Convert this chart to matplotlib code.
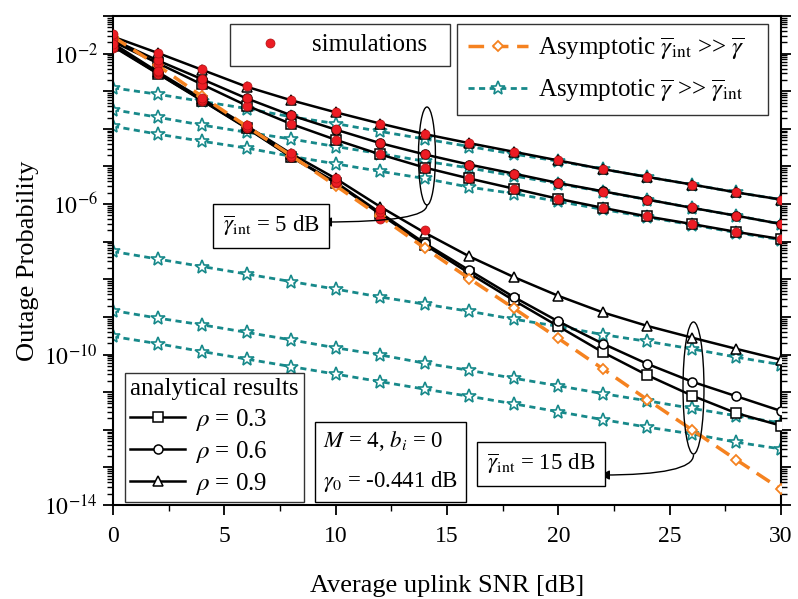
import numpy as np
import matplotlib
matplotlib.use('Agg')
import matplotlib.pyplot as plt
from matplotlib.patches import Ellipse
from matplotlib.lines import Line2D
from matplotlib.ticker import FixedLocator, FuncFormatter, MultipleLocator, NullFormatter

plt.rcParams['font.family'] = ['Liberation Serif', 'DejaVu Serif']
plt.rcParams['mathtext.fontset'] = 'stix'

# ---------------- data (log10 of outage probability) ----------------
snr = np.arange(0, 31, 2)

# analytical results, interference 5 dB
log_op_5dB_rho03 = [-1.68, -2.25, -2.82, -3.38, -3.87, -4.29, -4.68, -5.03, -5.32, -5.59, -5.86, -6.10, -6.33, -6.53, -6.74, -6.93]
log_op_5dB_rho06 = [-1.63, -2.18, -2.68, -3.19, -3.64, -4.02, -4.38, -4.68, -4.95, -5.19, -5.44, -5.66, -5.88, -6.10, -6.31, -6.53]
log_op_5dB_rho09 = [-1.55, -1.98, -2.43, -2.88, -3.24, -3.56, -3.86, -4.14, -4.38, -4.61, -4.84, -5.07, -5.28, -5.48, -5.69, -5.88]
# analytical results, interference 15 dB
log_op_15dB_rho03 = [-1.81, -2.53, -3.25, -3.98, -4.75, -5.44, -6.27, -7.08, -7.84, -8.56, -9.25, -9.94, -10.55, -11.09, -11.56, -11.89]
log_op_15dB_rho06 = [-1.79, -2.52, -3.24, -3.97, -4.74, -5.42, -6.23, -7.04, -7.76, -8.47, -9.12, -9.71, -10.25, -10.72, -11.11, -11.50]
log_op_15dB_rho09 = [-1.73, -2.48, -3.20, -3.92, -4.66, -5.32, -6.07, -6.76, -7.39, -7.94, -8.44, -8.88, -9.24, -9.55, -9.85, -10.14]

# simulations
log_sim_5dB_rho03 = [-1.72, -2.27, -2.83, -3.40, -3.87, -4.29, -4.68, -5.04, -5.32, -5.59, -5.86, -6.10, -6.32, -6.54, -6.74, -6.94]
log_sim_5dB_rho06 = [-1.60, -2.17, -2.68, -3.17, -3.63, -4.01, -4.37, -4.67, -4.95, -5.19, -5.43, -5.67, -5.88, -6.09, -6.31, -6.53]
log_sim_5dB_rho09 = [-1.47, -1.98, -2.42, -2.87, -3.24, -3.56, -3.86, -4.14, -4.37, -4.61, -4.84, -5.06, -5.28, -5.48, -5.69, -5.89]
snr_sim_15dB_rho03 = [0, 2, 4, 6, 8, 10, 12]
log_sim_15dB_rho03 = [-1.86, -2.53, -3.26, -3.98, -4.76, -5.45, -6.40]
snr_sim_15dB_rho06 = [0, 2, 4, 6, 8, 10, 12]
log_sim_15dB_rho06 = [-1.82, -2.50, -3.23, -3.96, -4.73, -5.40, -6.20]
snr_sim_15dB_rho09 = [0, 2, 4, 6, 8, 10, 12, 14]
log_sim_15dB_rho09 = [-1.75, -2.46, -3.19, -3.90, -4.64, -5.30, -6.12, -6.68]

# asymptotic, gamma_int >> gamma
log_asym_int = [-1.55, -2.31, -3.14, -3.93, -4.71, -5.51, -6.33, -7.17, -7.98, -8.77, -9.57, -10.38, -11.20, -12.00, -12.80, -13.58]
# asymptotic, gamma >> gamma_int
log_asym_5dB_rho09 = [-2.91, -3.08, -3.27, -3.46, -3.68, -3.86, -4.07, -4.27, -4.47, -4.67, -4.86, -5.07, -5.28, -5.48, -5.69, -5.88]
log_asym_5dB_rho06 = [-3.49, -3.69, -3.90, -4.09, -4.27, -4.47, -4.66, -4.86, -5.04, -5.25, -5.46, -5.67, -5.88, -6.10, -6.31, -6.53]
log_asym_5dB_rho03 = [-3.93, -4.14, -4.33, -4.51, -4.73, -4.93, -5.13, -5.32, -5.55, -5.72, -5.93, -6.14, -6.35, -6.55, -6.76, -6.95]
log_asym_15dB_rho09 = [-7.26, -7.46, -7.66, -7.86, -8.06, -8.26, -8.47, -8.66, -8.85, -9.06, -9.25, -9.47, -9.65, -9.85, -10.07, -10.27]
log_asym_15dB_rho06 = [-8.83, -9.03, -9.21, -9.41, -9.61, -9.82, -10.01, -10.23, -10.42, -10.63, -10.83, -11.04, -11.23, -11.43, -11.63, -11.82]
log_asym_15dB_rho03 = [-9.52, -9.71, -9.92, -10.12, -10.32, -10.52, -10.72, -10.92, -11.11, -11.31, -11.52, -11.73, -11.93, -12.11, -12.33, -12.51]

rho_labels = ['0.3', '0.6', '0.9']
xtick_vals = [0, 5, 10, 15, 20, 25, 30]
ytick_labelled = [-2, -6, -10, -14]

# ---------------- styles ----------------
RED = '#ec1c24'
ORANGE = '#f58220'
TEAL = '#17898a'

fig = plt.figure(figsize=(7.98, 5.99), dpi=100)
ax = fig.add_axes([0.1416, 0.1569, 0.8371, 0.8164])

def P(v):
    return 10.0 ** np.asarray(v, dtype=float)

# asymptotic gamma >> gamma_int (teal)
for arr in [log_asym_5dB_rho09, log_asym_5dB_rho06, log_asym_5dB_rho03,
            log_asym_15dB_rho09, log_asym_15dB_rho06, log_asym_15dB_rho03]:
    ax.plot(snr, P(arr), color=TEAL, ls=(0, (2.2, 1.6)), lw=2.0, marker='*',
            ms=10.5, mfc='white', mec=TEAL, mew=1.2, zorder=2)

# analytical results (black)
markers = ['s', 'o', '^']
for arrs in [(log_op_5dB_rho03, log_op_5dB_rho06, log_op_5dB_rho09),
             (log_op_15dB_rho03, log_op_15dB_rho06, log_op_15dB_rho09)]:
    for arr, mk in zip(arrs, markers):
        ax.plot(snr, P(arr), color='black', lw=1.8, marker=mk, ms=7.5 if mk == '^' else 6.5,
                mfc='white', mec='black', mew=1.1, zorder=3)

# asymptotic gamma_int >> gamma (orange)
ax.plot(snr, P(log_asym_int), color=ORANGE, ls=(0, (4.5, 2.5)), lw=2.5, marker='D',
        ms=5.5, mfc='white', mec=ORANGE, mew=1.3, zorder=3.5)

# simulations (red dots)
for xs, arr in [(snr, log_sim_5dB_rho03), (snr, log_sim_5dB_rho06), (snr, log_sim_5dB_rho09),
                (snr_sim_15dB_rho03, log_sim_15dB_rho03), (snr_sim_15dB_rho06, log_sim_15dB_rho06),
                (snr_sim_15dB_rho09, log_sim_15dB_rho09)]:
    ax.plot(xs, P(arr), ls='none', marker='o', ms=6.5, mfc=RED, mec='#b01010', mew=0.5, zorder=4)

# ---------------- axes ----------------
ax.set_yscale('log')
ax.set_xlim(0, 30)
ax.set_ylim(1e-14, 1e-1)
ax.xaxis.set_major_locator(FixedLocator(xtick_vals))
ax.xaxis.set_minor_locator(MultipleLocator(2.5))
ax.yaxis.set_major_locator(FixedLocator([10.0 ** k for k in range(-14, 0)]))
minors = [m * 10.0 ** k for k in range(-14, -1) for m in range(2, 10)]
ax.yaxis.set_minor_locator(FixedLocator(minors))
ax.yaxis.set_minor_formatter(NullFormatter())

def yfmt(v, pos):
    e = int(round(np.log10(v)))
    return r'$10^{%d}$' % e if e in ytick_labelled else ''
ax.yaxis.set_major_formatter(FuncFormatter(yfmt))

ax.tick_params(axis='both', which='major', direction='out', length=7, width=1.3, labelsize=17,
               right=True, top=False)
ax.tick_params(axis='x', which='major', pad=8)
ax.tick_params(axis='y', which='major', pad=4)
ax.tick_params(axis='both', which='minor', direction='out', length=4, width=1.0, right=True, top=False)
for s in ax.spines.values():
    s.set_linewidth(1.5)

ax.set_xlabel('Average uplink SNR [dB]', fontsize=19, labelpad=20)
ax.set_ylabel('Outage Probability', fontsize=19, labelpad=4)

# ---------------- legends ----------------
sim_handle = Line2D([], [], ls='none', marker='o', ms=6.5, mfc=RED, mec='#b01010', mew=0.5)
leg1 = ax.legend([sim_handle], ['simulations  '], loc='upper left', bbox_to_anchor=(0.175, 0.984),
                 fontsize=18, frameon=True, fancybox=False, edgecolor='black', handlelength=2.4,
                 borderpad=0.4, handletextpad=0.5, borderaxespad=0)
leg1.get_frame().set_linewidth(1.0)
ax.add_artist(leg1)

h_int = Line2D([], [], color=ORANGE, ls=(0, (4.5, 2.5)), lw=2.5, marker='D', ms=5.5, mfc='white', mec=ORANGE, mew=1.3)
h_snr = Line2D([], [], color=TEAL, ls=(0, (2.2, 1.6)), lw=2.0, marker='*', ms=10.5, mfc='white', mec=TEAL, mew=1.2)
leg2 = ax.legend([h_int, h_snr],
                 [r'Asymptotic $\overline{\gamma}_{\mathrm{int}}$ >> $\overline{\gamma}$   ',
                  r'Asymptotic $\overline{\gamma}$ >> $\overline{\gamma}_{\mathrm{int}}$   '],
                 loc='upper left', bbox_to_anchor=(0.515, 0.984), fontsize=18, frameon=True,
                 fancybox=False, edgecolor='black', handlelength=2.4, borderpad=0.45,
                 handletextpad=0.4, labelspacing=0.6, borderaxespad=0)
leg2.get_frame().set_linewidth(1.0)
ax.add_artist(leg2)

h_rho = [Line2D([], [], color='black', lw=1.8, marker=mk, ms=7.5 if mk == '^' else 6.5,
                mfc='white', mec='black', mew=1.1) for mk in markers]
leg3 = ax.legend(h_rho, [r'$\rho$ = %s' % r for r in rho_labels], title='analytical results',
                 loc='lower left', bbox_to_anchor=(0.018, 0.006), fontsize=18, title_fontsize=18,
                 frameon=True, fancybox=False, edgecolor='black', handlelength=2.2, borderpad=0.2,
                 handletextpad=0.4, labelspacing=0.25, borderaxespad=0)
leg3._legend_box.align = 'left'
leg3.get_frame().set_linewidth(1.0)

# parameter box
ax.text(0.3145, 0.022, r'$M$ = 4, $b_i$ = 0' + '\n' + r'$\gamma_0$ = -0.441 dB', transform=ax.transAxes,
        ha='left', va='bottom', fontsize=16.5, linespacing=1.9,
        bbox=dict(boxstyle='square,pad=0.35', fc='white', ec='black', lw=1.0), zorder=6)

# annotation boxes
ax.text(0.2365, 0.5706, r'$\overline{\gamma}_{\mathrm{int}}$ = 5 dB', transform=ax.transAxes,
        ha='center', va='center', fontsize=16.5,
        bbox=dict(boxstyle='square,pad=0.42', fc='white', ec='black', lw=1.0), zorder=6)
ax.text(0.6405, 0.0838, r'$\overline{\gamma}_{\mathrm{int}}$ = 15 dB', transform=ax.transAxes,
        ha='center', va='center', fontsize=16.5,
        bbox=dict(boxstyle='square,pad=0.42', fc='white', ec='black', lw=1.0), zorder=6)

# ellipses
ax.add_patch(Ellipse((0.470, 0.7137), 0.0254, 0.2004, transform=ax.transAxes, fill=False,
                     ec='black', lw=1.0, zorder=5))
ax.add_patch(Ellipse((0.869, 0.2393), 0.0314, 0.270, transform=ax.transAxes, fill=False,
                     ec='black', lw=1.0, zorder=5))

# curved arrows from ellipses to boxes
ax.annotate('', xy=(0.3129, 0.5787), xytext=(0.470, 0.6135), xycoords='axes fraction',
            textcoords='axes fraction',
            arrowprops=dict(arrowstyle='-|>', color='black', lw=1.0, mutation_scale=14,
                            shrinkA=0, shrinkB=0, connectionstyle='angle3,angleA=-90,angleB=0'),
            zorder=5)
ax.annotate('', xy=(0.7290, 0.0613), xytext=(0.869, 0.1022), xycoords='axes fraction',
            textcoords='axes fraction',
            arrowprops=dict(arrowstyle='-|>', color='black', lw=1.0, mutation_scale=14,
                            shrinkA=0, shrinkB=0, connectionstyle='angle3,angleA=-90,angleB=0'),
            zorder=5)

fig.savefig('out.png', dpi=100)
